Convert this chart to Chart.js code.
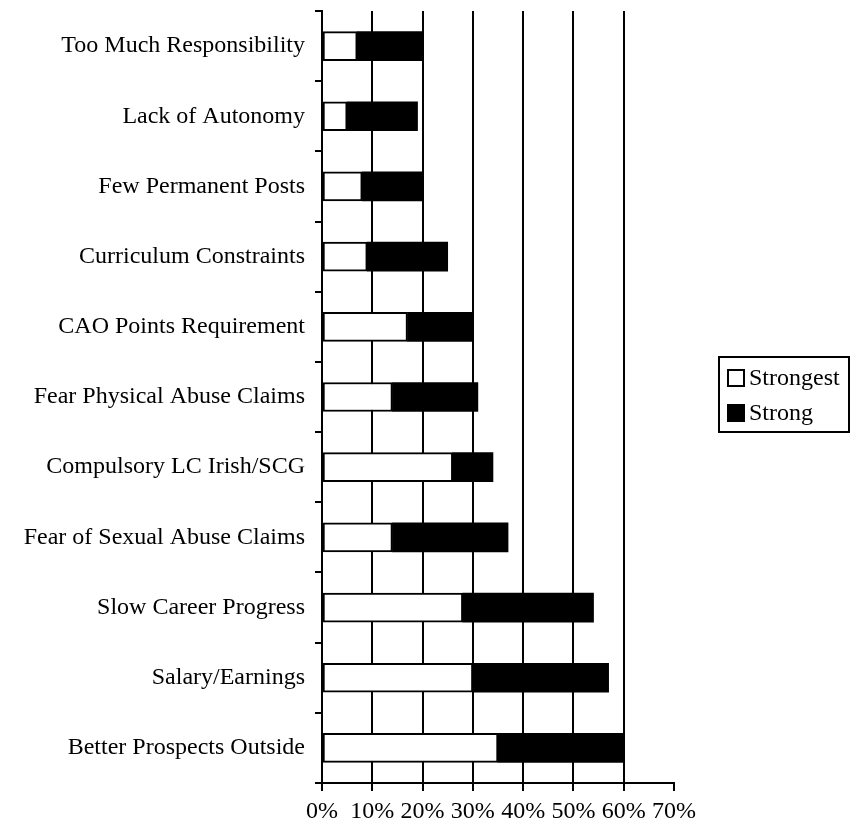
<!DOCTYPE html>
<html>
<head>
<meta charset="utf-8">
<script src="https://cdn.jsdelivr.net/npm/chart.js@4/dist/chart.umd.min.js"></script>
<style>
  html, body { margin: 0; padding: 0; background: #fff; }
  canvas { display: block; }
</style>
</head>
<body>
<canvas id="chart" width="858" height="828"></canvas>
<script>
// Reasons deterring entry to teaching: strongest vs strong, stacked horizontal bars

const categories = [
    'Too Much Responsibility',
    'Lack of Autonomy',
    'Few Permanent Posts',
    'Curriculum Constraints',
    'CAO Points Requirement',
    'Fear Physical Abuse Claims',
    'Compulsory LC Irish/SCG',
    'Fear of Sexual Abuse Claims',
    'Slow Career Progress',
    'Salary/Earnings',
    'Better Prospects Outside'
];
const strongest = [7, 5, 8, 9, 17, 14, 26, 14, 28, 30, 35];
const strong = [13, 14, 12, 16, 13, 17, 8, 23, 26, 27, 25];
const xTickLabels = ['0%', '10%', '20%', '30%', '40%', '50%', '60%', '70%'];

const FONT = 'Liberation Serif';

// boxed legend at the right, drawn on the canvas
const boxLegend = {
    id: 'boxLegend',
    afterDraw(chart) {
        const c = chart.ctx;
        const x = 719, y = 357, w = 130, h = 75;
        c.save();
        c.fillStyle = '#fff';
        c.fillRect(x, y, w, h);
        c.strokeStyle = '#000';
        c.lineWidth = 2;
        c.strokeRect(x, y, w, h);
        c.font = '24px "' + FONT + '"';
        c.textBaseline = 'middle';
        chart.data.datasets.forEach((ds, i) => {
            const cy = y + 21 + i * 35;
            c.fillStyle = ds.backgroundColor;
            c.fillRect(x + 9, cy - 8, 16, 16);
            c.strokeStyle = '#000';
            c.lineWidth = 2;
            c.strokeRect(x + 9, cy - 8, 16, 16);
            c.fillStyle = '#000';
            c.fillText(ds.label, x + 30, cy + 1);
        });
        c.restore();
    }
};

new Chart(document.getElementById('chart'), {
    type: 'bar',
    data: {
        labels: categories,
        datasets: [
            {
                label: 'Strongest',
                data: strongest,
                backgroundColor: '#fff',
                borderColor: '#000',
                borderWidth: 2,
                borderSkipped: false
            },
            {
                label: 'Strong',
                data: strong,
                backgroundColor: '#000',
                borderColor: '#000',
                borderWidth: 0
            }
        ]
    },
    options: {
        indexAxis: 'y',
        responsive: false,
        animation: false,
        barThickness: 29,
        layout: { padding: { top: 11, right: 184, left: 0, bottom: 0 } },
        plugins: {
            legend: { display: false },
            tooltip: { enabled: false }
        },
        scales: {
            x: {
                stacked: true,
                min: 0,
                max: 70,
                ticks: {
                    stepSize: 10,
                    color: '#000',
                    padding: 6,
                    font: { family: FONT, size: 24 },
                    callback: (v, i) => xTickLabels[i]
                },
                grid: {
                    color: ctx => (ctx.tick && ctx.tick.value === 70) ? 'rgba(0,0,0,0)' : '#000',
                    tickColor: '#000',
                    lineWidth: 2,
                    tickLength: 8
                },
                border: { color: '#000', width: 2 },
                afterFit: s => { s.height = 45; s.paddingLeft = 0; s.paddingRight = 0; }
            },
            y: {
                stacked: true,
                ticks: {
                    color: '#000',
                    padding: 10,
                    font: { family: FONT, size: 24 }
                },
                grid: {
                    offset: true,
                    drawOnChartArea: false,
                    color: '#000',
                    lineWidth: 2,
                    tickLength: 7
                },
                border: { color: '#000', width: 2 },
                afterFit: s => { s.width = 322; s.paddingTop = 0; s.paddingBottom = 0; }
            }
        }
    },
    plugins: [boxLegend]
});
</script>
</body>
</html>
